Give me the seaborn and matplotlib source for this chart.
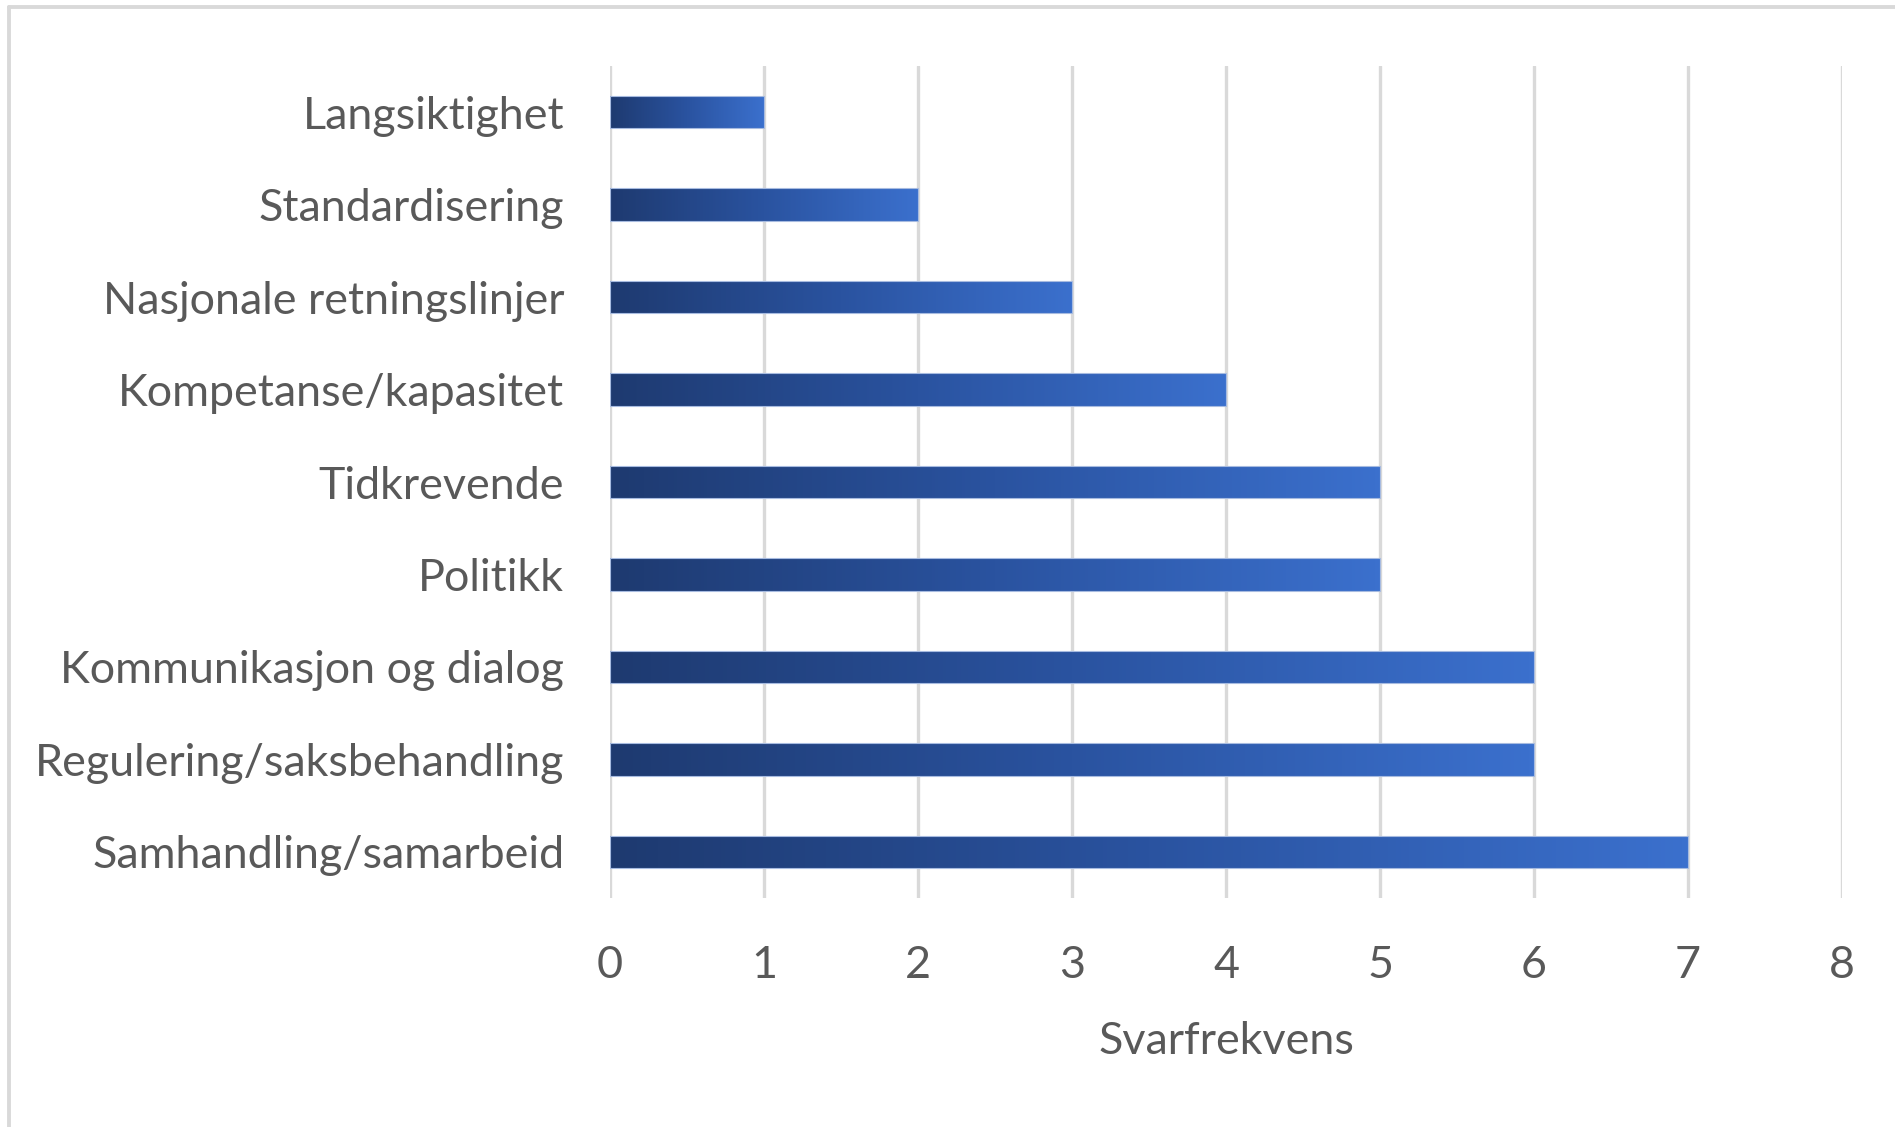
import numpy as np
import pandas as pd
import matplotlib
matplotlib.use("Agg")
import matplotlib.pyplot as plt
import seaborn as sns
from matplotlib.colors import LinearSegmentedColormap
from matplotlib.lines import Line2D

# Response categories (top to bottom) and their counts
categories = [
    "Langsiktighet",
    "Standardisering",
    "Nasjonale retningslinjer",
    "Kompetanse/kapasitet",
    "Tidkrevende",
    "Politikk",
    "Kommunikasjon og dialog",
    "Regulering/saksbehandling",
    "Samhandling/samarbeid",
]
counts = [1, 2, 3, 4, 5, 5, 6, 6, 7]
x_ticks = [0, 1, 2, 3, 4, 5, 6, 7, 8]
x_label = "Svarfrekvens"

df = pd.DataFrame({"kategori": categories, "antall": counts})

sns.set_theme(style="white")
plt.rcParams["font.family"] = ["Lato", "DejaVu Sans"]

TEXT = "#595959"
GRID = "#d9d9d9"

W, H = 1895, 1127
fig = plt.figure(figsize=(W / 100, H / 100), dpi=100)
fig.patch.set_facecolor("white")

left, right, top, bottom = 610, 1842, 66, 898
ax = fig.add_axes([left / W, 1 - bottom / H, (right - left) / W, (bottom - top) / H])

sns.barplot(data=df, x="antall", y="kategori", orient="h", width=0.35,
            color="#2f5bb0", ax=ax, zorder=3)

# Horizontal gradient fill for each bar, dark navy on the left to bright blue on the right
grad_cmap = LinearSegmentedColormap.from_list("bar_grad", ["#1e3a70", "#2a53a0", "#3b70cd"])
gradient = np.linspace(0, 1, 256).reshape(1, -1)
for patch in ax.patches:
    x0, y0 = patch.get_x(), patch.get_y()
    w, h = patch.get_width(), patch.get_height()
    patch.set_facecolor("none")
    patch.set_edgecolor("#a7bbe0")
    patch.set_linewidth(0.8)
    img = ax.imshow(gradient, cmap=grad_cmap, aspect="auto",
                    extent=[x0, x0 + w, y0 + h, y0], zorder=2.5, interpolation="bilinear")
    img.set_clip_path(patch)

ax.set_xlim(0, 8)
ax.set_ylim(len(categories) - 0.5, -0.5)
ax.set_xticks(x_ticks)
ax.set_xticklabels([str(t) for t in x_ticks])

ax.grid(axis="x", color=GRID, linewidth=2.4, zorder=0)
ax.grid(axis="y", visible=False)
ax.set_axisbelow(True)
for s in ax.spines.values():
    s.set_visible(False)

ax.tick_params(axis="y", length=0, pad=33, labelsize=32.3, labelcolor=TEXT)
ax.tick_params(axis="x", length=0, pad=34, labelsize=32.3, labelcolor=TEXT)
ax.set_ylabel("")
ax.set_xlabel(x_label, fontsize=32.3, color=TEXT, labelpad=25)

# Light frame along the top and left edges of the chart area
fig.add_artist(Line2D([9 / W, 9 / W], [0, 1 - 7 / H], transform=fig.transFigure,
                      color=GRID, linewidth=2.8))
fig.add_artist(Line2D([9 / W, 1], [1 - 7 / H, 1 - 7 / H], transform=fig.transFigure,
                      color=GRID, linewidth=2.8))

fig.savefig("out.png", dpi=100, facecolor="white")
